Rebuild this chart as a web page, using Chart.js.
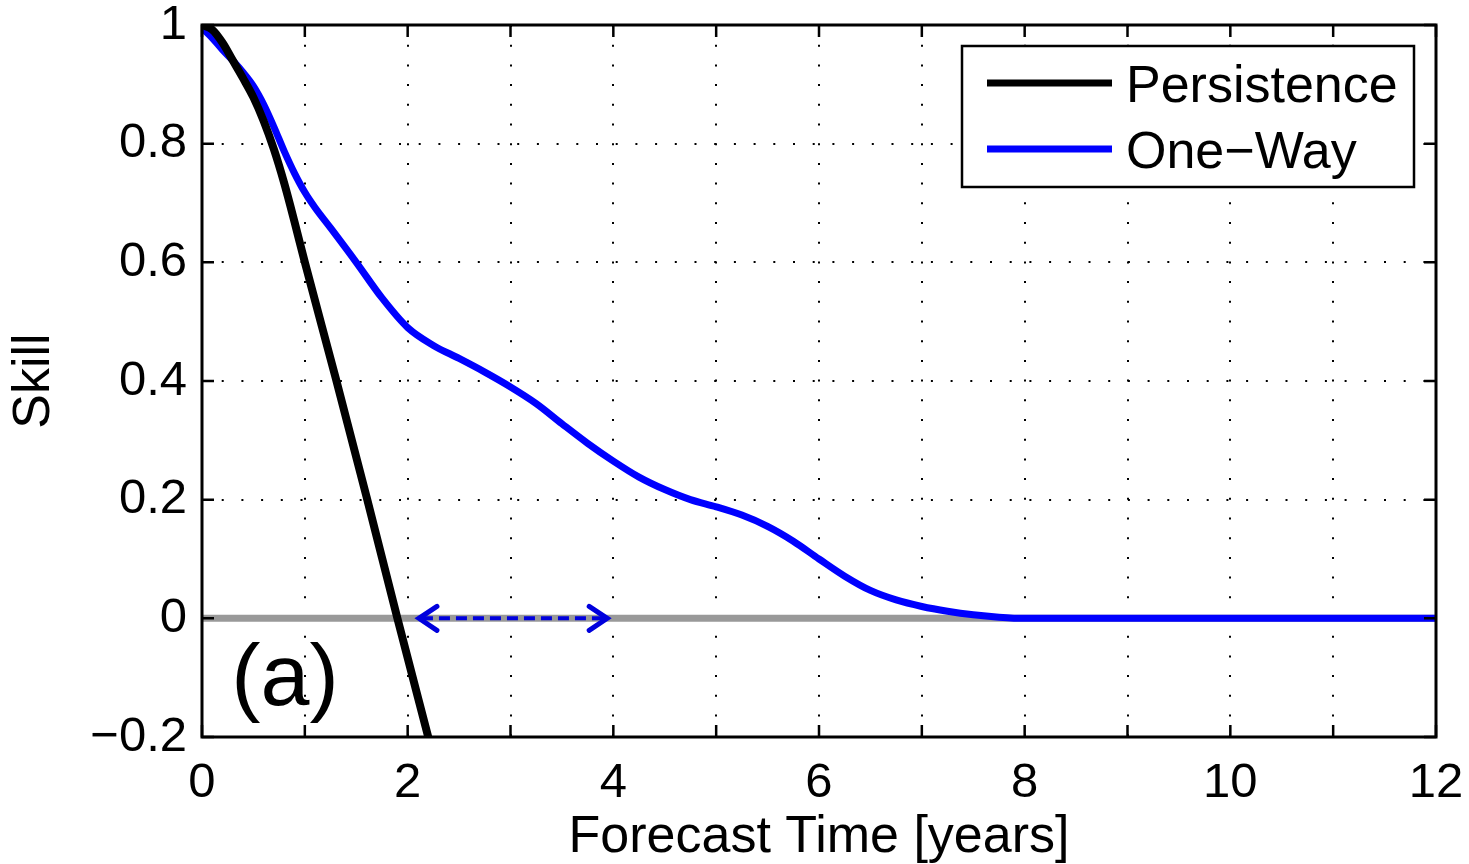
<!DOCTYPE html>
<html>
<head>
<meta charset="utf-8">
<title>Skill vs forecast time</title>
<script src="https://cdn.jsdelivr.net/npm/chart.js@4/dist/chart.umd.min.js"></script>
<style>
  html, body { margin: 0; padding: 0; background: #fff; }
  #wrap { width: 1469px; height: 864px; position: relative; }
</style>
</head>
<body>
<div id="wrap"><canvas id="skillChart"></canvas></div>
<script>
"use strict";

// --- data ---
const persistenceTime  = [0, 0.1, 0.2, 0.3, 0.4, 0.5, 0.6, 0.7, 0.8, 0.9, 1.0, 1.3, 1.6, 1.9, 2.2];
const persistenceSkill = [1.0, 0.992, 0.97, 0.94, 0.91, 0.878, 0.838, 0.79, 0.733, 0.668, 0.6, 0.405, 0.205, 0.0, -0.2];

const oneWayTime  = [0, 0.1, 0.2, 0.3, 0.4, 0.5, 0.6, 0.7, 0.8, 0.9, 1.0, 1.1, 1.25, 1.5, 1.75, 2.0, 2.25, 2.5,
                     2.75, 3.0, 3.25, 3.5, 3.75, 4.0, 4.25, 4.5, 4.75, 5.0, 5.25, 5.5, 5.75, 6.0, 6.25, 6.5,
                     6.75, 7.0, 7.25, 7.5, 7.75, 8.0, 9.0, 10.0, 11.0, 12.0];
const oneWaySkill = [0.995, 0.978, 0.958, 0.94, 0.92, 0.897, 0.866, 0.828, 0.787, 0.75, 0.718, 0.692, 0.658,
                     0.6, 0.54, 0.49, 0.46, 0.438, 0.415, 0.39, 0.362, 0.328, 0.295, 0.265, 0.238, 0.217,
                     0.2, 0.188, 0.174, 0.155, 0.13, 0.1, 0.071, 0.047, 0.031, 0.02, 0.012, 0.006, 0.002,
                     0, 0, 0, 0, 0];

const zeroLineTime  = [0, 12];
const zeroLineSkill = [0, 0];

// gain in lead time marked by the double arrow (years)
const arrowSpan = [2.1, 3.95];

const xTicks = [0, 2, 4, 6, 8, 10, 12];
const yTicks = [-0.2, 0, 0.2, 0.4, 0.6, 0.8, 1];

const FONT = "'Liberation Sans', Arial, Helvetica, sans-serif";

function toPoints(xs, ys) {
  return xs.map((x, i) => ({ x: x, y: ys[i] }));
}

function fmtTick(v) {
  const r = Math.round(v * 10) / 10;
  return r < 0 ? "\u2212" + String(-r) : String(r);
}

// box round the axes with MATLAB style inward ticks
const frameTicks = {
  id: "frameTicks",
  afterDatasetsDraw(chart) {
    const { ctx, chartArea: a, scales } = chart;
    const len = 12;
    ctx.save();
    ctx.strokeStyle = "#000";
    ctx.lineWidth = 2.5;
    ctx.beginPath();
    for (let t = 0; t <= 12; t++) {
      const px = scales.x.getPixelForValue(t);
      ctx.moveTo(px, a.bottom); ctx.lineTo(px, a.bottom - len);
      ctx.moveTo(px, a.top);    ctx.lineTo(px, a.top + len);
    }
    yTicks.forEach(v => {
      const py = scales.y.getPixelForValue(v);
      ctx.moveTo(a.left, py);  ctx.lineTo(a.left + len, py);
      ctx.moveTo(a.right, py); ctx.lineTo(a.right - len, py);
    });
    ctx.stroke();
    ctx.lineWidth = 3;
    ctx.strokeRect(a.left, a.top, a.right - a.left, a.bottom - a.top);
    ctx.restore();
  }
};

// dashed double arrow along the zero line
const leadArrow = {
  id: "leadArrow",
  afterDatasetsDraw(chart) {
    const { ctx, scales } = chart;
    const x0 = scales.x.getPixelForValue(arrowSpan[0]);
    const x1 = scales.x.getPixelForValue(arrowSpan[1]);
    const y = scales.y.getPixelForValue(0);
    ctx.save();
    ctx.strokeStyle = "#0000dd";
    ctx.lineWidth = 4;
    ctx.setLineDash([11, 6]);
    ctx.beginPath();
    ctx.moveTo(x0 + 4, y); ctx.lineTo(x1 - 4, y);
    ctx.stroke();
    ctx.setLineDash([]);
    ctx.lineWidth = 5;
    ctx.lineCap = "round";
    ctx.lineJoin = "miter";
    ctx.beginPath();
    ctx.moveTo(x0 + 19, y - 12); ctx.lineTo(x0 + 1, y); ctx.lineTo(x0 + 19, y + 12);
    ctx.moveTo(x1 - 19, y - 12); ctx.lineTo(x1 - 1, y); ctx.lineTo(x1 - 19, y + 12);
    ctx.stroke();
    ctx.restore();
  }
};

// boxed legend in the upper right corner, plus the panel tag "(a)"
const boxLegend = {
  id: "boxLegend",
  afterDraw(chart) {
    const { ctx, chartArea: a } = chart;
    const w = 452, h = 141;
    const left = a.right - 22 - w, top = a.top + 21;
    ctx.save();
    ctx.fillStyle = "#fff";
    ctx.fillRect(left, top, w, h);
    ctx.strokeStyle = "#000";
    ctx.lineWidth = 2.5;
    ctx.strokeRect(left, top, w, h);
    ctx.font = "52px " + FONT;
    ctx.textBaseline = "alphabetic";
    chart.data.datasets.filter(d => d.label).forEach((d, i) => {
      const y = top + 37 + i * 66;
      ctx.strokeStyle = d.borderColor;
      ctx.lineWidth = 7;
      ctx.beginPath();
      ctx.moveTo(left + 25, y); ctx.lineTo(left + 150, y);
      ctx.stroke();
      ctx.fillStyle = "#000";
      ctx.fillText(d.label, left + 164, y + 19);
    });
    ctx.font = "88px " + FONT;
    ctx.textAlign = "center";
    ctx.fillText("(a)", a.left + 83, a.bottom - 32);
    ctx.restore();
  }
};

const ctx = document.getElementById("skillChart").getContext("2d");

new Chart(ctx, {
  type: "line",
  data: {
    datasets: [
      {
        label: "Persistence",
        data: toPoints(persistenceTime, persistenceSkill),
        borderColor: "#000000",
        borderWidth: 8,
        cubicInterpolationMode: "monotone",
        pointRadius: 0
      },
      {
        label: "One\u2212Way",
        data: toPoints(oneWayTime, oneWaySkill),
        borderColor: "#0000ff",
        borderWidth: 7,
        cubicInterpolationMode: "monotone",
        pointRadius: 0
      },
      {
        label: "",
        data: toPoints(zeroLineTime, zeroLineSkill),
        borderColor: "#999999",
        borderWidth: 7,
        pointRadius: 0
      }
    ]
  },
  options: {
    responsive: true,
    maintainAspectRatio: false,
    animation: false,
    layout: { padding: { top: 25, right: 33, left: 0, bottom: 0 } },
    plugins: {
      legend: { display: false },
      tooltip: { enabled: false }
    },
    scales: {
      x: {
        type: "linear",
        min: 0,
        max: 12,
        afterFit(scale) { scale.height = 127; scale.paddingLeft = 0; scale.paddingRight = 0; },
        ticks: {
          stepSize: 1,
          autoSkip: false,
          maxRotation: 0,
          padding: 22,
          color: "#000",
          font: { family: FONT, size: 49, lineHeight: 1 },
          callback: v => (xTicks.includes(v) ? String(v) : "")
        },
        grid: { color: "#000", lineWidth: 2, drawTicks: false },
        border: { display: false, dash: [2, 17.7] },
        title: {
          display: true,
          text: "Forecast Time [years]",
          color: "#000",
          font: { family: FONT, size: 52, lineHeight: 1 },
          padding: { top: 0, bottom: 0 }
        }
      },
      y: {
        type: "linear",
        min: -0.2,
        max: 1,
        afterFit(scale) { scale.width = 202; scale.paddingTop = 0; scale.paddingBottom = 0; },
        ticks: {
          stepSize: 0.2,
          padding: 15,
          color: "#000",
          font: { family: FONT, size: 49, lineHeight: 1 },
          callback: v => fmtTick(v)
        },
        grid: { color: "#000", lineWidth: 2, drawTicks: false },
        border: { display: false, dash: [2, 17.7] },
        title: {
          display: true,
          text: "Skill",
          color: "#000",
          font: { family: FONT, size: 52, lineHeight: 1 },
          padding: { top: 9, bottom: 0 }
        }
      }
    }
  },
  plugins: [leadArrow, frameTicks, boxLegend]
});
</script>
</body>
</html>
